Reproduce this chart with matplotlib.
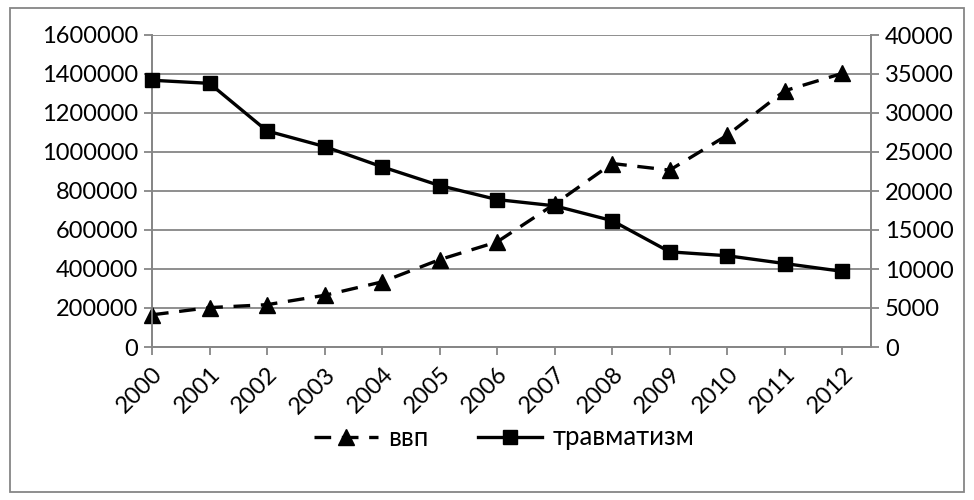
import numpy as np
import matplotlib.pyplot as plt
from matplotlib.lines import Line2D
from matplotlib.patches import Rectangle

plt.rcParams.update({
    "font.family": ["Lato", "DejaVu Sans"],
    "font.size": 17,
})

# data
years = [2000, 2001, 2002, 2003, 2004, 2005, 2006,
         2007, 2008, 2009, 2010, 2011, 2012]
vvp = [165000, 202000, 217000, 265000, 334000, 448000, 539000,
       733000, 941000, 907000, 1086000, 1314000, 1403000]
travm = [34200, 33800, 27700, 25700, 23100, 20700, 18900,
         18100, 16200, 12200, 11700, 10700, 9700]

grey = "#868686"
dash = (0, (5, 3.2))

fig = plt.figure(figsize=(9.74, 5.0), dpi=100)
ax = fig.add_axes([152 / 974, 1 - 347 / 500, (871 - 152) / 974, (347 - 35) / 500])
ax2 = ax.twinx()

x = np.arange(len(years))

ax.plot(x, vvp, color="black", lw=2.4, ls=dash, marker="^",
        ms=12, clip_on=False, zorder=3)
ax2.plot(x, travm, color="black", lw=2.4, marker="s", ms=10,
         clip_on=False, zorder=3)

ax.set_xlim(0, len(years) - 0.5)
ax.set_ylim(0, 1600000)
ax2.set_ylim(0, 40000)
ax.set_yticks(np.arange(0, 1600001, 200000))
ax2.set_yticks(np.arange(0, 40001, 5000))
ax.yaxis.set_major_formatter(plt.FuncFormatter(lambda v, p: f"{int(v)}"))
ax2.yaxis.set_major_formatter(plt.FuncFormatter(lambda v, p: f"{int(v)}"))

ax.set_xticks(x)
ax.set_xticklabels([str(y) for y in years], rotation=45, ha="right",
                   va="top", rotation_mode="anchor")

ax.grid(axis="y", color=grey, lw=1.3)
ax.set_axisbelow(True)

for a in (ax, ax2):
    a.spines["top"].set_visible(False)
    for s in ("left", "right", "bottom"):
        a.spines[s].set_color(grey)
        a.spines[s].set_linewidth(1.3)
    a.tick_params(direction="out", length=6, width=1.3, color=grey,
                  labelsize=17, pad=4)
ax.tick_params(axis="x", pad=6)

handles = [
    Line2D([], [], color="black", lw=2.4, ls=dash, marker="^", ms=12),
    Line2D([], [], color="black", lw=2.4, marker="s", ms=10),
]
fig.legend(handles, ["ввп", "травматизм"], loc="center",
           bbox_to_anchor=(504 / 974, 1 - 438 / 500), ncol=2, frameon=False,
           fontsize=18.5, handlelength=2.5, columnspacing=1.9, handletextpad=0.4)

fig.patches.append(Rectangle((10 / 974, 8 / 500), 954 / 974, 484 / 500,
                             transform=fig.transFigure, fill=False,
                             edgecolor=grey, lw=1.3))

fig.savefig("out.png", dpi=100)
